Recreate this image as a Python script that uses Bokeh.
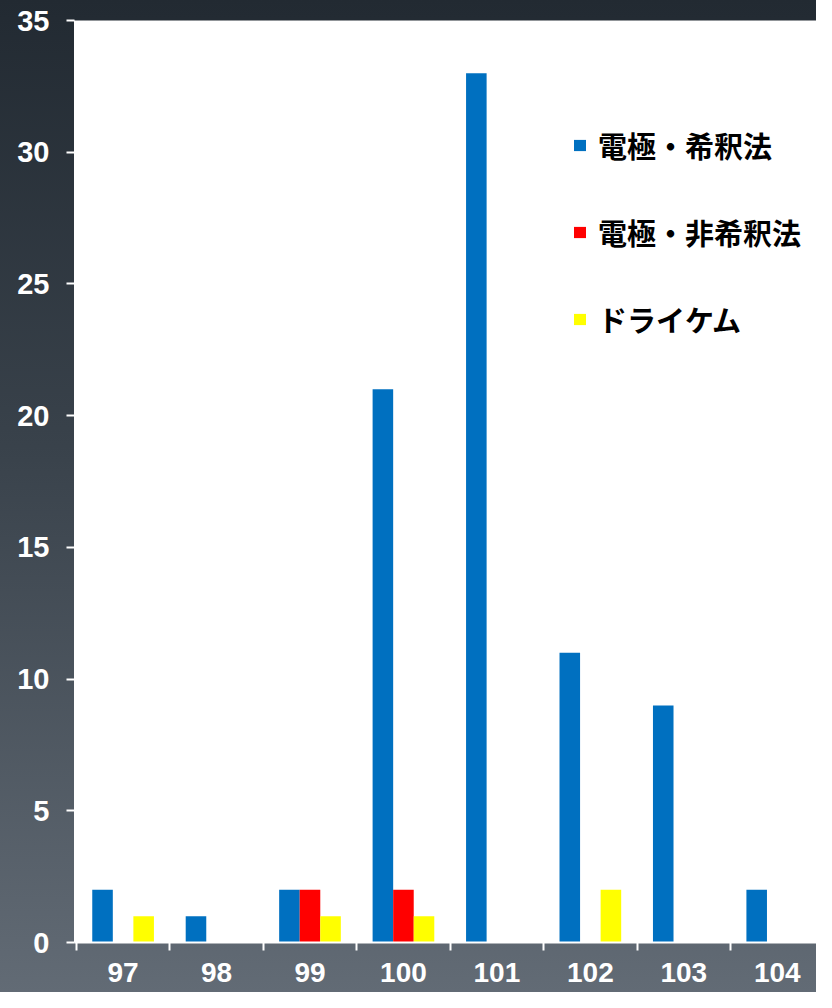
from bokeh.plotting import figure
from bokeh.models import (ColumnDataSource, Range1d, FixedTicker, Legend, LegendItem)
from bokeh.embed import file_html
from bokeh.resources import INLINE

# ---- data ----
years = ["97", "98", "99", "100", "101", "102", "103", "104"]
dilution = [2, 1, 2, 21, 33, 11, 9, 2]        # 電極・希釈法
non_dilution = [0, 0, 2, 2, 0, 0, 0, 0]       # 電極・非希釈法
drychem = [1, 0, 1, 1, 0, 2, 0, 0]            # ドライケム
series_names = ["電極・希釈法", "電極・非希釈法", "ドライケム"]
series_colors = ["#0070C0", "#FF0000", "#FFFF00"]
y_ticks = [0, 5, 10, 15, 20, 25, 30, 35]

centers = [i + 0.5 for i in range(len(years))]
bounds = [float(i) for i in range(len(years) + 1)]
bar_w = 0.22

src = ColumnDataSource(dict(
    x_b=[c - bar_w for c in centers],
    x_r=centers,
    x_y=[c + bar_w for c in centers],
    blue=dilution, red=non_dilution, yellow=drychem,
))

p = figure(width=816, height=992, output_backend="svg", toolbar_location=None,
           x_range=Range1d(-0.02, 7.92), y_range=Range1d(0, 35),
           min_border_left=74, min_border_right=0, min_border_top=20,
           min_border_bottom=50)

p.styles = {"background-image": "linear-gradient(to bottom, #222a32 0%, #39424b 45%, #626b75 100%)"}
p.border_fill_color = None
p.background_fill_color = "white"
p.outline_line_color = None
p.grid.visible = False

r1 = p.vbar(x="x_b", top="blue", width=bar_w, source=src,
            fill_color=series_colors[0], line_color=None)
r2 = p.vbar(x="x_r", top="red", width=bar_w, source=src,
            fill_color=series_colors[1], line_color=None)
r3 = p.vbar(x="x_y", top="yellow", width=bar_w, source=src,
            fill_color=series_colors[2], line_color=None)

# x axis: labels at category centers, tick marks at category boundaries
p.xaxis.ticker = FixedTicker(ticks=centers, minor_ticks=bounds)
p.xaxis.major_label_overrides = {c: y for c, y in zip(centers, years)}
p.xaxis.major_tick_line_color = None
p.xaxis.minor_tick_line_color = "white"
p.xaxis.minor_tick_line_width = 2
p.xaxis.minor_tick_out = 8
p.xaxis.minor_tick_in = 0
p.xaxis.axis_line_color = "white"
p.xaxis.axis_line_width = 2
p.xaxis.major_label_text_color = "white"
p.xaxis.major_label_text_font = "Liberation Sans"
p.xaxis.major_label_text_font_style = "bold"
p.xaxis.major_label_text_font_size = "28px"
p.xaxis.major_label_standoff = 12

p.yaxis.ticker = FixedTicker(ticks=y_ticks)
p.yaxis.minor_tick_line_color = None
p.yaxis.major_tick_line_color = "white"
p.yaxis.major_tick_line_width = 2
p.yaxis.major_tick_out = 8
p.yaxis.major_tick_in = 0
p.yaxis.axis_line_color = "white"
p.yaxis.major_label_text_color = "white"
p.yaxis.major_label_text_font = "Liberation Sans"
p.yaxis.major_label_text_font_style = "bold"
p.yaxis.major_label_text_font_size = "29px"
p.yaxis.major_label_standoff = 17

legend = Legend(items=[LegendItem(label=series_names[0], renderers=[r1]),
                       LegendItem(label=series_names[1], renderers=[r2]),
                       LegendItem(label=series_names[2], renderers=[r3])],
                location=(498, 602), margin=0, padding=0,
                glyph_width=15, glyph_height=14, label_standoff=11,
                label_height=42, spacing=45,
                label_text_font="Noto Sans CJK JP", label_text_font_style="bold",
                label_text_font_size="29px", label_text_color="black",
                border_line_color=None, background_fill_alpha=0)
p.add_layout(legend, "center")

open("out.html", "w").write(file_html(p, INLINE))
